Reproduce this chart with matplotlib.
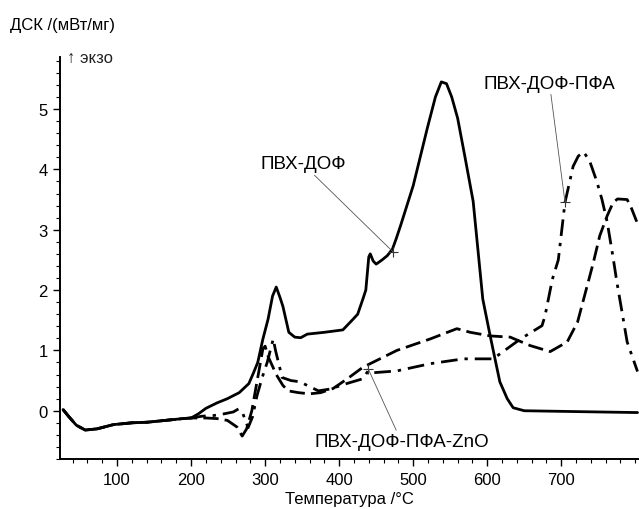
import numpy as np
import matplotlib.pyplot as plt
from matplotlib.ticker import MultipleLocator

plt.rcParams['font.family'] = ['Liberation Sans Narrow', 'Liberation Sans', 'DejaVu Sans']

# ПВХ-ДОФ (solid)
t_pvh = [27, 35, 45, 57, 73, 95, 120, 141, 165, 189, 200, 210, 220, 235, 249, 265, 278, 284,
         290, 297, 304, 310, 315, 320, 324, 332, 340, 348, 357, 380, 405, 419, 425, 432, 436,
         440, 442, 446, 450, 458, 465, 472, 477, 483, 500, 519, 530, 538, 545, 552, 560, 570,
         581, 594, 604, 617, 627, 635, 650, 700, 750, 803]
d_pvh = [0.02, -0.1, -0.24, -0.32, -0.3, -0.23, -0.2, -0.19, -0.16, -0.13, -0.12, -0.05, 0.04,
         0.13, 0.2, 0.3, 0.45, 0.62, 0.8, 1.19, 1.52, 1.9, 2.05, 1.88, 1.73, 1.3, 1.22, 1.21,
         1.27, 1.3, 1.34, 1.52, 1.6, 1.85, 2.0, 2.55, 2.6, 2.48, 2.43, 2.5, 2.57, 2.68, 2.85,
         3.07, 3.73, 4.68, 5.2, 5.45, 5.42, 5.2, 4.85, 4.2, 3.47, 1.85, 1.24, 0.48, 0.2, 0.05,
         0.0, -0.01, -0.02, -0.03]

# ПВХ-ДОФ-ПФА (dash-dot)
t_pfa = [27, 35, 45, 57, 73, 95, 120, 141, 165, 189, 200, 215, 230, 245, 257, 264, 270, 277,
         283, 289, 296, 303, 308, 311, 314, 317, 323, 335, 347, 360, 372, 388, 410, 432, 439,
         446, 478, 523, 568, 608, 627, 645, 674, 678, 688, 696, 705, 716, 723, 730, 738, 748,
         755, 762, 770, 775, 789, 803]
d_pfa = [0.02, -0.1, -0.24, -0.32, -0.3, -0.23, -0.2, -0.19, -0.16, -0.13, -0.12, -0.09, -0.08,
         -0.05, -0.02, 0.03, -0.05, -0.28, -0.1, 0.25, 0.55, 0.81, 1.05, 1.19, 1.0, 0.85, 0.55,
         0.5, 0.48, 0.4, 0.33, 0.36, 0.45, 0.53, 0.66, 0.63, 0.66, 0.78, 0.86, 0.86, 1.03, 1.19,
         1.41, 1.57, 2.18, 2.5, 3.45, 4.05, 4.22, 4.29, 4.15, 3.8, 3.5, 3.13, 2.54, 2.14, 1.14,
         0.65]

# ПВХ-ДОФ-ПФА-ZnO (dashed)
t_zno = [27, 35, 45, 57, 73, 95, 120, 141, 165, 189, 200, 220, 235, 249, 262, 269, 275, 282,
         290, 297, 300, 304, 315, 324, 331, 345, 360, 375, 392, 411, 432, 478, 523, 559, 577,
         604, 631, 658, 685, 708, 722, 735, 743, 752, 762, 770, 776, 789, 795, 803]
d_zno = [0.02, -0.1, -0.24, -0.32, -0.3, -0.23, -0.2, -0.19, -0.16, -0.13, -0.12, -0.12, -0.13,
         -0.16, -0.27, -0.42, -0.3, 0.0, 0.55, 1.03, 1.07, 0.9, 0.6, 0.42, 0.33, 0.3, 0.28, 0.3,
         0.37, 0.53, 0.72, 1.0, 1.19, 1.36, 1.3, 1.24, 1.22, 1.08, 0.98, 1.14, 1.47, 2.07, 2.44,
         2.9, 3.23, 3.45, 3.51, 3.5, 3.35, 3.1]

fig = plt.figure(figsize=(6.39, 5.1), dpi=100)
ax = fig.add_axes([0.094, 0.098, 0.906, 0.788])

lw = 2.0
ax.plot(t_pvh, d_pvh, color='black', lw=lw, solid_capstyle='round')
ax.plot(t_pfa, d_pfa, color='black', lw=lw, dashes=(6, 2.5, 1.2, 2.5))
ax.plot(t_zno, d_zno, color='black', lw=lw, dashes=(5.5, 2.2))

ax.set_xlim(23, 805)
ax.set_ylim(-0.8, 5.86)
ax.xaxis.set_minor_locator(MultipleLocator(20))
ax.yaxis.set_minor_locator(MultipleLocator(0.2))
ax.set_xticks([100, 200, 300, 400, 500, 600, 700])
ax.set_yticks([0, 1, 2, 3, 4, 5])
ax.tick_params(which='major', direction='out', length=5, width=1.0, labelsize=12, pad=4)
ax.tick_params(which='minor', direction='out', length=3, width=0.8)
for s in ['top', 'right']:
    ax.spines[s].set_visible(False)
for s in ['left', 'bottom']:
    ax.spines[s].set_linewidth(1.4)

ax.set_xlabel('Температура /°C', fontsize=12, labelpad=3)
fig.text(0.015, 0.95, 'ДСК /(мВт/мг)', fontsize=12, va='center', ha='left')
fig.text(0.105, 0.886, '↑ экзо', fontsize=12, va='center', ha='left', color='#222222')

line = dict(arrowstyle='-', color='#555555', lw=0.6, shrinkA=0, shrinkB=0)
notes = [('ПВХ-ДОФ', (473, 2.63), (351, 4.09)),
         ('ПВХ-ДОФ-ПФА', (705, 3.46), (684, 5.43)),
         ('ПВХ-ДОФ-ПФА-ZnO', (439, 0.7), (484, -0.51))]
for txt, xy, xyt in notes:
    ax.annotate(txt, xy=xy, xytext=xyt, fontsize=13.5, ha='center', va='center',
                arrowprops=line)
    ax.plot(*xy, marker='+', color='#333333', ms=7, mew=0.8)

fig.savefig('out.png', dpi=100)
